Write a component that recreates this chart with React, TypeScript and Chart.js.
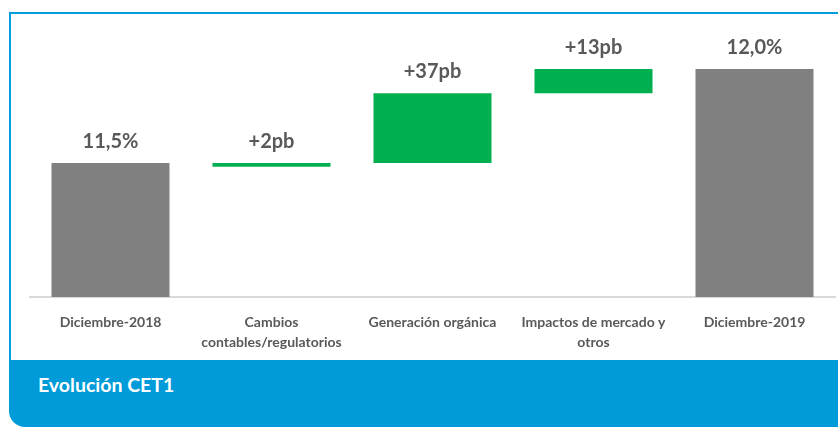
import React, { useEffect, useRef } from "react";
import { Chart, registerables } from "chart.js";

Chart.register(...registerables);

// ---- data ----
const categories: (string | string[])[] = [
  "Diciembre-2018",
  ["Cambios", "contables/regulatorios"],
  "Generación orgánica",
  ["Impactos de mercado y", "otros"],
  "Diciembre-2019",
];
// CET1 ratio (%) – lower / upper end of each floating bar (null = from axis floor)
const barLow: (number | null)[] = [null, 11.48, 11.5, 11.87, null];
const barHigh: number[] = [11.5, 11.5, 11.87, 12.0, 12.0];
const valueLabels: string[] = ["11,5%", "+2pb", "+37pb", "+13pb", "12,0%"];
const barKinds: string[] = ["total", "delta", "delta", "delta", "total"];
const axisMin = 10.787;
const axisMax = 12.207;
const footerTitle = "Evolución CET1";

const GRAY = "#808080";
const GREEN = "#00b050";
const TEXT = "#595959";
const FONT = "Lato, 'Open Sans', sans-serif";

const valueLabelPlugin = {
  id: "valueLabels",
  afterDatasetsDraw(chart: any) {
    const ctx = chart.ctx;
    const meta = chart.getDatasetMeta(0);
    ctx.save();
    ctx.font = `bold 20px ${FONT}`;
    ctx.fillStyle = TEXT;
    ctx.textAlign = "center";
    ctx.textBaseline = "alphabetic";
    meta.data.forEach((el: any, i: number) => {
      const { x, y, base } = el.getProps(["x", "y", "base"], true);
      const top = Math.min(y, base);
      ctx.fillText(valueLabels[i], x, top - 15);
    });
    ctx.restore();
  },
};

export default function App() {
  const canvasRef = useRef<HTMLCanvasElement | null>(null);

  useEffect(() => {
    document.body.style.margin = "0";
    const canvas = canvasRef.current;
    if (!canvas) return;
    const chart = new Chart(canvas, {
      type: "bar",
      data: {
        labels: categories as any,
        datasets: [
          {
            data: barHigh.map((h, i) => [barLow[i] ?? axisMin, h]) as any,
            backgroundColor: barKinds.map((k) => (k === "total" ? GRAY : GREEN)),
            borderWidth: 0,
            categoryPercentage: 1,
            barPercentage: 0.733,
          },
        ],
      },
      options: {
        animation: false,
        responsive: false,
        maintainAspectRatio: false,
        layout: { padding: { left: 30, right: 3, top: 30, bottom: 67 } },
        plugins: {
          legend: { display: false },
          tooltip: { enabled: false },
        },
        scales: {
          x: {
            offset: true,
            grid: { display: false },
            border: { display: true, color: "#d9d9d9", width: 2 },
            ticks: {
              color: TEXT,
              font: { family: FONT, size: 14, weight: "bold", lineHeight: 1.4 },
              padding: 8,
              maxRotation: 0,
              autoSkip: false,
            },
            afterFit(scale: any) {
              scale.height = 63;
            },
          },
          y: {
            display: false,
            min: axisMin,
            max: axisMax,
          },
        },
      },
      plugins: [valueLabelPlugin],
    });
    return () => chart.destroy();
  }, []);

  return (
    <div
      style={{
        position: "fixed",
        left: 0,
        top: 0,
        width: 838,
        height: 427,
        overflow: "hidden",
        background: "#ffffff",
      }}
    >
      <div
        style={{
          position: "absolute",
          left: 9,
          top: 12,
          width: 840,
          height: 348,
          borderTop: "2px solid #009ddf",
          borderLeft: "2px solid #009ddf",
          boxSizing: "border-box",
        }}
      />
      <div
        style={{
          position: "absolute",
          left: 9,
          top: 360,
          width: 840,
          height: 67,
          background: "#009bd8",
          borderBottomLeftRadius: 16,
        }}
      >
        <div
          style={{
            position: "absolute",
            left: 29,
            top: 12,
            color: "#ffffff",
            fontFamily: FONT,
            fontWeight: "bold",
            fontSize: 19.5,
            lineHeight: "26px",
          }}
        >
          {footerTitle}
        </div>
      </div>
      <canvas
        ref={canvasRef}
        width={838}
        height={427}
        style={{ position: "absolute", left: 0, top: 0, width: 838, height: 427 }}
      />
    </div>
  );
}
